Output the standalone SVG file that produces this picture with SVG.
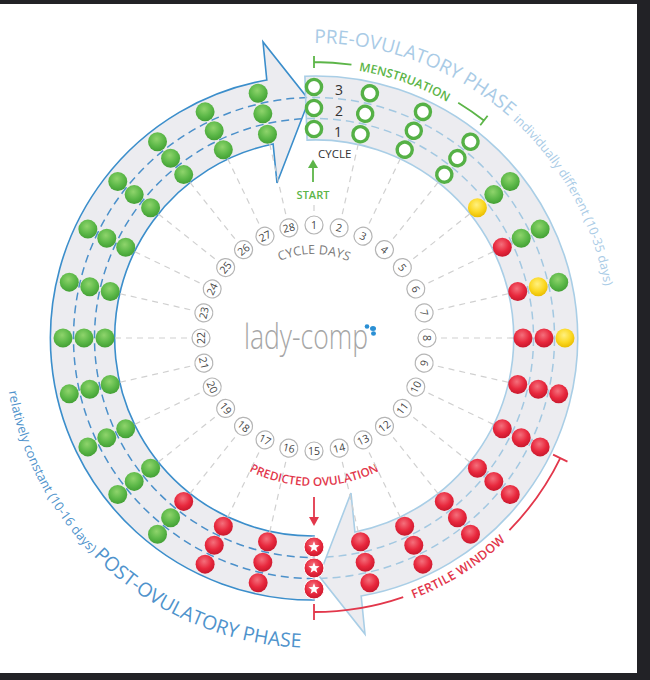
<svg xmlns="http://www.w3.org/2000/svg" width="650" height="680" viewBox="0 0 650 680">
<defs>
<style>
text{font-family:"Open Sans","Liberation Sans",sans-serif}
.band{fill:#ececf0}
.dk{stroke:#3b8ecb;stroke-width:1.6}
.lt{stroke:#a9cee6;stroke-width:1.6}
.dd{fill:none;stroke:#4b90ca;stroke-width:1.5;stroke-dasharray:8 5}
.ld{fill:none;stroke:#a3c8e1;stroke-width:1.5;stroke-dasharray:8 5}
.rl{stroke:#d0d0d0;stroke-width:1.2;stroke-dasharray:6 5}
.dc{fill:#fff;stroke:#b5b5b5;stroke-width:1.2}
.dn{font-size:10.5px;fill:#444;text-anchor:middle}
.gr{fill:none;stroke:#5cb548;stroke-width:1.8}
.rd{fill:none;stroke:#e2374b;stroke-width:1.8}
.cn{font-size:14px;fill:#333;text-anchor:middle}
</style>
<radialGradient id="gg" cx="0.45" cy="0.35" r="0.65"><stop offset="0" stop-color="#8fd46c"/><stop offset="0.6" stop-color="#5cb848"/><stop offset="1" stop-color="#43a035"/></radialGradient>
<radialGradient id="rg" cx="0.45" cy="0.35" r="0.65"><stop offset="0" stop-color="#f4707c"/><stop offset="0.6" stop-color="#e8283d"/><stop offset="1" stop-color="#c9182d"/></radialGradient>
<radialGradient id="yg" cx="0.45" cy="0.35" r="0.65"><stop offset="0" stop-color="#fff080"/><stop offset="0.6" stop-color="#fbd822"/><stop offset="1" stop-color="#eabd00"/></radialGradient>
<circle id="G" r="9.5" fill="url(#gg)"/>
<circle id="R" r="9.5" fill="url(#rg)"/>
<circle id="Y" r="9.5" fill="url(#yg)"/>
<circle id="H" r="7.6" fill="#fff" stroke="#55b146" stroke-width="3.4"/>
<g id="S"><circle r="10" fill="url(#rg)" stroke="#fff" stroke-width="1"/><path d="M0,-5.8 L1.411,-1.942 L5.516,-1.792 L2.283,0.742 L3.409,4.692 L0,2.4 L-3.409,4.692 L-2.283,0.742 L-5.516,-1.792 L-1.411,-1.942 Z" fill="#fff"/></g>
<clipPath id="cpDark"><path d="M314,600 A262,262 0 0 1 266.8,80 L263,42 L309,100 L277,183 L273.1,144 A198,198 0 0 0 314,536 Z"/></clipPath>
<clipPath id="cpLight"><path d="M304.9,76.2 A262,262 0 0 1 361.2,596 L365,634 L319,576 L351,493 L354.9,532 A198,198 0 0 0 307.1,140.1 Z"/></clipPath>
<path id="pPre" d="M288.29,44.12 A295,295 0 0 1 607.88,363.71"/>
<path id="pPost" d="M4.19,348.82 A310,310 0 0 0 367.83,643.29"/>
<path id="pMens" d="M266.94,71.12 A271,271 0 0 1 548.69,202.5"/>
<path id="pFert" d="M338.32,615.94 A279,279 0 0 0 576.17,433.42"/>
<path id="pPred" d="M185.83,412 A148,148 0 0 0 442.17,412"/>
<path id="pDays" d="M241.25,296 A84,84 0 0 1 386.75,296"/>
</defs>
<rect width="650" height="680" fill="#fff"/>
<rect x="0" y="0" width="650" height="4" fill="#222226"/>
<rect x="637" y="0" width="13" height="680" fill="#222226"/>
<rect x="0" y="673" width="650" height="7" fill="#222226"/>

<g id="bands">
<path class="band dk" d="M314,600 A262,262 0 0 1 266.8,80 L263,42 L309,100 L277,183 L273.1,144 A198,198 0 0 0 314,536 Z"/>
<g clip-path="url(#cpDark)"><circle class="dd" cx="314" cy="338" r="219.5"/><circle class="dd" cx="314" cy="338" r="240.5"/></g>
<path class="band lt" d="M304.9,76.2 A262,262 0 0 1 361.2,596 L365,634 L319,576 L351,493 L354.9,532 A198,198 0 0 0 307.1,140.1 Z"/>
<g clip-path="url(#cpLight)"><circle class="ld" cx="314" cy="338" r="219.5"/><circle class="ld" cx="314" cy="338" r="240.5"/></g>
</g>

<g id="labels">
<text font-size="19" fill="#a9cbe6"><textPath href="#pPre" startOffset="26">PRE-OVULATORY PHASE <tspan font-size="12.5">individually different (10-35 days)</tspan></textPath></text>
<text font-size="12.8" fill="#4f93cc"><textPath href="#pPost" startOffset="43">relatively constant (10-16 days) <tspan font-size="19.5">POST-OVULATORY PHASE</tspan></textPath></text>
<text font-size="12" font-weight="600" fill="#5cb548" text-anchor="middle"><textPath href="#pMens" startOffset="139.5">MENSTRUATION</textPath></text>
<text font-size="12.5" font-weight="600" fill="#e2374b" text-anchor="middle" letter-spacing="0.3"><textPath href="#pFert" startOffset="132.4">FERTILE WINDOW</textPath></text>
<text font-size="11.8" font-weight="600" fill="#e2374b" text-anchor="middle"><textPath href="#pPred" startOffset="155">PREDICTED OVULATION</textPath></text>
<text font-size="12.5" fill="#7a7a7a" text-anchor="middle"><textPath href="#pDays" startOffset="88">CYCLE DAYS</textPath></text>
<text class="cn" x="339" y="94.5">3</text>
<text class="cn" x="339" y="116">2</text>
<text class="cn" x="338" y="137">1</text>
<text x="318" y="158" font-size="11.5" fill="#333">CYCLE</text>
<text x="313" y="199" font-size="11" font-weight="600" fill="#5cb548" text-anchor="middle">START</text>
</g>

<g id="logo">
<text x="244" y="349" font-family="Lato,'Open Sans',sans-serif" font-weight="300" font-size="34" fill="#a6a6a6" textLength="124" lengthAdjust="spacingAndGlyphs">lady-comp</text>
<circle cx="367" cy="326.5" r="2.3" fill="#2a8fd4"/>
<ellipse cx="373" cy="328.5" rx="3" ry="2.5" fill="#2a8fd4"/>
<ellipse cx="373.5" cy="333.5" rx="2.5" ry="2.3" fill="#2a8fd4"/>
</g>

<g id="connectors">
<line class="rl" x1="314" y1="205" x2="314" y2="214"/>
<line class="rl" x1="314" y1="139" x2="314" y2="214" transform="rotate(12.857 314 338)"/>
<line class="rl" x1="314" y1="139" x2="314" y2="214" transform="rotate(25.714 314 338)"/>
<line class="rl" x1="314" y1="139" x2="314" y2="214" transform="rotate(38.571 314 338)"/>
<line class="rl" x1="314" y1="139" x2="314" y2="214" transform="rotate(51.429 314 338)"/>
<line class="rl" x1="314" y1="139" x2="314" y2="214" transform="rotate(64.286 314 338)"/>
<line class="rl" x1="314" y1="139" x2="314" y2="214" transform="rotate(77.143 314 338)"/>
<line class="rl" x1="314" y1="139" x2="314" y2="214" transform="rotate(90 314 338)"/>
<line class="rl" x1="314" y1="139" x2="314" y2="214" transform="rotate(102.857 314 338)"/>
<line class="rl" x1="314" y1="139" x2="314" y2="214" transform="rotate(115.714 314 338)"/>
<line class="rl" x1="314" y1="139" x2="314" y2="214" transform="rotate(128.571 314 338)"/>
<line class="rl" x1="314" y1="139" x2="314" y2="214" transform="rotate(141.429 314 338)"/>
<line class="rl" x1="314" y1="139" x2="314" y2="214" transform="rotate(154.286 314 338)"/>
<line class="rl" x1="314" y1="139" x2="314" y2="214" transform="rotate(167.143 314 338)"/>
<line class="rl" x1="314" y1="139" x2="314" y2="214" transform="rotate(192.857 314 338)"/>
<line class="rl" x1="314" y1="139" x2="314" y2="214" transform="rotate(205.714 314 338)"/>
<line class="rl" x1="314" y1="139" x2="314" y2="214" transform="rotate(218.571 314 338)"/>
<line class="rl" x1="314" y1="139" x2="314" y2="214" transform="rotate(231.429 314 338)"/>
<line class="rl" x1="314" y1="139" x2="314" y2="214" transform="rotate(244.286 314 338)"/>
<line class="rl" x1="314" y1="139" x2="314" y2="214" transform="rotate(257.143 314 338)"/>
<line class="rl" x1="314" y1="139" x2="314" y2="214" transform="rotate(270 314 338)"/>
<line class="rl" x1="314" y1="139" x2="314" y2="214" transform="rotate(282.857 314 338)"/>
<line class="rl" x1="314" y1="139" x2="314" y2="214" transform="rotate(295.714 314 338)"/>
<line class="rl" x1="314" y1="139" x2="314" y2="214" transform="rotate(308.571 314 338)"/>
<line class="rl" x1="314" y1="139" x2="314" y2="214" transform="rotate(321.429 314 338)"/>
<line class="rl" x1="314" y1="139" x2="314" y2="214" transform="rotate(334.286 314 338)"/>
<line class="rl" x1="314" y1="139" x2="314" y2="214" transform="rotate(347.143 314 338)"/>
<line x1="313" y1="182" x2="313" y2="167" stroke="#5cb548" stroke-width="1.8"/>
<path d="M308,168 L318,168 L313,159.5 Z" fill="#5cb548"/>
<line x1="314" y1="497" x2="314" y2="518" stroke="#e2374b" stroke-width="1.8"/>
<path d="M309,517 L319,517 L314,526 Z" fill="#e2374b"/>
<path class="gr" d="M314,62 A276,276 0 0 1 351.46,64.55 M458.21,102.67 A276,276 0 0 1 483.92,120.51 M314,68 L314,56 M480.23,125.24 L487.62,115.78"/>
<path class="rd" d="M314,612 A274,274 0 0 0 403.21,597.07 M509.43,530.05 A274,274 0 0 0 560.27,458.11 M314,604 L314,620 M553.08,454.61 L567.46,461.62"/>
</g>

<g id="day1" transform="rotate(0 314 338)"><circle class="dc" cx="314" cy="225" r="9"/><text class="dn" x="314" y="228.8">1</text><use href="#H" transform="translate(314 129)"/><use href="#H" transform="translate(314 108)"/><use href="#H" transform="translate(314 87)"/></g>
<g id="day2" transform="rotate(12.857 314 338)"><circle class="dc" cx="314" cy="225" r="9"/><text class="dn" x="314" y="228.8">2</text><use href="#H" transform="translate(314 129)"/><use href="#H" transform="translate(314 108)"/><use href="#H" transform="translate(314 87)"/></g>
<g id="day3" transform="rotate(25.714 314 338)"><circle class="dc" cx="314" cy="225" r="9"/><text class="dn" x="314" y="228.8">3</text><use href="#H" transform="translate(314 129)"/><use href="#H" transform="translate(314 108)"/><use href="#H" transform="translate(314 87)"/></g>
<g id="day4" transform="rotate(38.571 314 338)"><circle class="dc" cx="314" cy="225" r="9"/><text class="dn" x="314" y="228.8">4</text><use href="#H" transform="translate(314 129)"/><use href="#H" transform="translate(314 108)"/><use href="#H" transform="translate(314 87)"/></g>
<g id="day5" transform="rotate(51.429 314 338)"><circle class="dc" cx="314" cy="225" r="9"/><text class="dn" x="314" y="228.8">5</text><use href="#Y" transform="translate(314 129) rotate(-51.429)"/><use href="#G" transform="translate(314 108) rotate(-51.429)"/><use href="#G" transform="translate(314 87) rotate(-51.429)"/></g>
<g id="day6" transform="rotate(64.286 314 338)"><circle class="dc" cx="314" cy="225" r="9"/><text class="dn" x="314" y="228.8">6</text><use href="#R" transform="translate(314 129) rotate(-64.286)"/><use href="#G" transform="translate(314 108) rotate(-64.286)"/><use href="#G" transform="translate(314 87) rotate(-64.286)"/></g>
<g id="day7" transform="rotate(77.143 314 338)"><circle class="dc" cx="314" cy="225" r="9"/><text class="dn" x="314" y="228.8">7</text><use href="#R" transform="translate(314 129) rotate(-77.143)"/><use href="#Y" transform="translate(314 108) rotate(-77.143)"/><use href="#G" transform="translate(314 87) rotate(-77.143)"/></g>
<g id="day8" transform="rotate(90 314 338)"><circle class="dc" cx="314" cy="225" r="9"/><text class="dn" x="314" y="228.8">8</text><use href="#R" transform="translate(314 129) rotate(-90)"/><use href="#R" transform="translate(314 108) rotate(-90)"/><use href="#Y" transform="translate(314 87) rotate(-90)"/></g>
<g id="day9" transform="rotate(102.857 314 338)"><circle class="dc" cx="314" cy="225" r="9"/><text class="dn" x="314" y="228.8" transform="rotate(180 314 225)">9</text><use href="#R" transform="translate(314 129) rotate(-102.857)"/><use href="#R" transform="translate(314 108) rotate(-102.857)"/><use href="#R" transform="translate(314 87) rotate(-102.857)"/></g>
<g id="day10" transform="rotate(115.714 314 338)"><circle class="dc" cx="314" cy="225" r="9"/><text class="dn" x="314" y="228.8" transform="rotate(180 314 225)">10</text><use href="#R" transform="translate(314 129) rotate(-115.714)"/><use href="#R" transform="translate(314 108) rotate(-115.714)"/><use href="#R" transform="translate(314 87) rotate(-115.714)"/></g>
<g id="day11" transform="rotate(128.571 314 338)"><circle class="dc" cx="314" cy="225" r="9"/><text class="dn" x="314" y="228.8" transform="rotate(180 314 225)">11</text><use href="#R" transform="translate(314 129) rotate(-128.571)"/><use href="#R" transform="translate(314 108) rotate(-128.571)"/><use href="#R" transform="translate(314 87) rotate(-128.571)"/></g>
<g id="day12" transform="rotate(141.429 314 338)"><circle class="dc" cx="314" cy="225" r="9"/><text class="dn" x="314" y="228.8" transform="rotate(180 314 225)">12</text><use href="#R" transform="translate(314 129) rotate(-141.429)"/><use href="#R" transform="translate(314 108) rotate(-141.429)"/><use href="#R" transform="translate(314 87) rotate(-141.429)"/></g>
<g id="day13" transform="rotate(154.286 314 338)"><circle class="dc" cx="314" cy="225" r="9"/><text class="dn" x="314" y="228.8" transform="rotate(180 314 225)">13</text><use href="#R" transform="translate(314 129) rotate(-154.286)"/><use href="#R" transform="translate(314 108) rotate(-154.286)"/><use href="#R" transform="translate(314 87) rotate(-154.286)"/></g>
<g id="day14" transform="rotate(167.143 314 338)"><circle class="dc" cx="314" cy="225" r="9"/><text class="dn" x="314" y="228.8" transform="rotate(180 314 225)">14</text><use href="#R" transform="translate(314 129) rotate(-167.143)"/><use href="#R" transform="translate(314 108) rotate(-167.143)"/><use href="#R" transform="translate(314 87) rotate(-167.143)"/></g>
<g id="day15" transform="rotate(180 314 338)"><circle class="dc" cx="314" cy="225" r="9"/><text class="dn" x="314" y="228.8" transform="rotate(180 314 225)">15</text><use href="#S" transform="translate(314 129) rotate(-180)"/><use href="#S" transform="translate(314 108) rotate(-180)"/><use href="#S" transform="translate(314 87) rotate(-180)"/></g>
<g id="day16" transform="rotate(192.857 314 338)"><circle class="dc" cx="314" cy="225" r="9"/><text class="dn" x="314" y="228.8" transform="rotate(180 314 225)">16</text><use href="#R" transform="translate(314 129) rotate(-192.857)"/><use href="#R" transform="translate(314 108) rotate(-192.857)"/><use href="#R" transform="translate(314 87) rotate(-192.857)"/></g>
<g id="day17" transform="rotate(205.714 314 338)"><circle class="dc" cx="314" cy="225" r="9"/><text class="dn" x="314" y="228.8" transform="rotate(180 314 225)">17</text><use href="#R" transform="translate(314 129) rotate(-205.714)"/><use href="#R" transform="translate(314 108) rotate(-205.714)"/><use href="#R" transform="translate(314 87) rotate(-205.714)"/></g>
<g id="day18" transform="rotate(218.571 314 338)"><circle class="dc" cx="314" cy="225" r="9"/><text class="dn" x="314" y="228.8" transform="rotate(180 314 225)">18</text><use href="#R" transform="translate(314 129) rotate(-218.571)"/><use href="#G" transform="translate(314 108) rotate(-218.571)"/><use href="#G" transform="translate(314 87) rotate(-218.571)"/></g>
<g id="day19" transform="rotate(231.429 314 338)"><circle class="dc" cx="314" cy="225" r="9"/><text class="dn" x="314" y="228.8" transform="rotate(180 314 225)">19</text><use href="#G" transform="translate(314 129) rotate(-231.429)"/><use href="#G" transform="translate(314 108) rotate(-231.429)"/><use href="#G" transform="translate(314 87) rotate(-231.429)"/></g>
<g id="day20" transform="rotate(244.286 314 338)"><circle class="dc" cx="314" cy="225" r="9"/><text class="dn" x="314" y="228.8" transform="rotate(180 314 225)">20</text><use href="#G" transform="translate(314 129) rotate(-244.286)"/><use href="#G" transform="translate(314 108) rotate(-244.286)"/><use href="#G" transform="translate(314 87) rotate(-244.286)"/></g>
<g id="day21" transform="rotate(257.143 314 338)"><circle class="dc" cx="314" cy="225" r="9"/><text class="dn" x="314" y="228.8" transform="rotate(180 314 225)">21</text><use href="#G" transform="translate(314 129) rotate(-257.143)"/><use href="#G" transform="translate(314 108) rotate(-257.143)"/><use href="#G" transform="translate(314 87) rotate(-257.143)"/></g>
<g id="day22" transform="rotate(270 314 338)"><circle class="dc" cx="314" cy="225" r="9"/><text class="dn" x="314" y="228.8">22</text><use href="#G" transform="translate(314 129) rotate(-270)"/><use href="#G" transform="translate(314 108) rotate(-270)"/><use href="#G" transform="translate(314 87) rotate(-270)"/></g>
<g id="day23" transform="rotate(282.857 314 338)"><circle class="dc" cx="314" cy="225" r="9"/><text class="dn" x="314" y="228.8">23</text><use href="#G" transform="translate(314 129) rotate(-282.857)"/><use href="#G" transform="translate(314 108) rotate(-282.857)"/><use href="#G" transform="translate(314 87) rotate(-282.857)"/></g>
<g id="day24" transform="rotate(295.714 314 338)"><circle class="dc" cx="314" cy="225" r="9"/><text class="dn" x="314" y="228.8">24</text><use href="#G" transform="translate(314 129) rotate(-295.714)"/><use href="#G" transform="translate(314 108) rotate(-295.714)"/><use href="#G" transform="translate(314 87) rotate(-295.714)"/></g>
<g id="day25" transform="rotate(308.571 314 338)"><circle class="dc" cx="314" cy="225" r="9"/><text class="dn" x="314" y="228.8">25</text><use href="#G" transform="translate(314 129) rotate(-308.571)"/><use href="#G" transform="translate(314 108) rotate(-308.571)"/><use href="#G" transform="translate(314 87) rotate(-308.571)"/></g>
<g id="day26" transform="rotate(321.429 314 338)"><circle class="dc" cx="314" cy="225" r="9"/><text class="dn" x="314" y="228.8">26</text><use href="#G" transform="translate(314 129) rotate(-321.429)"/><use href="#G" transform="translate(314 108) rotate(-321.429)"/><use href="#G" transform="translate(314 87) rotate(-321.429)"/></g>
<g id="day27" transform="rotate(334.286 314 338)"><circle class="dc" cx="314" cy="225" r="9"/><text class="dn" x="314" y="228.8">27</text><use href="#G" transform="translate(314 129) rotate(-334.286)"/><use href="#G" transform="translate(314 108) rotate(-334.286)"/><use href="#G" transform="translate(314 87) rotate(-334.286)"/></g>
<g id="day28" transform="rotate(347.143 314 338)"><circle class="dc" cx="314" cy="225" r="9"/><text class="dn" x="314" y="228.8">28</text><use href="#G" transform="translate(314 129) rotate(-347.143)"/><use href="#G" transform="translate(314 108) rotate(-347.143)"/><use href="#G" transform="translate(314 87) rotate(-347.143)"/></g>
</svg>
